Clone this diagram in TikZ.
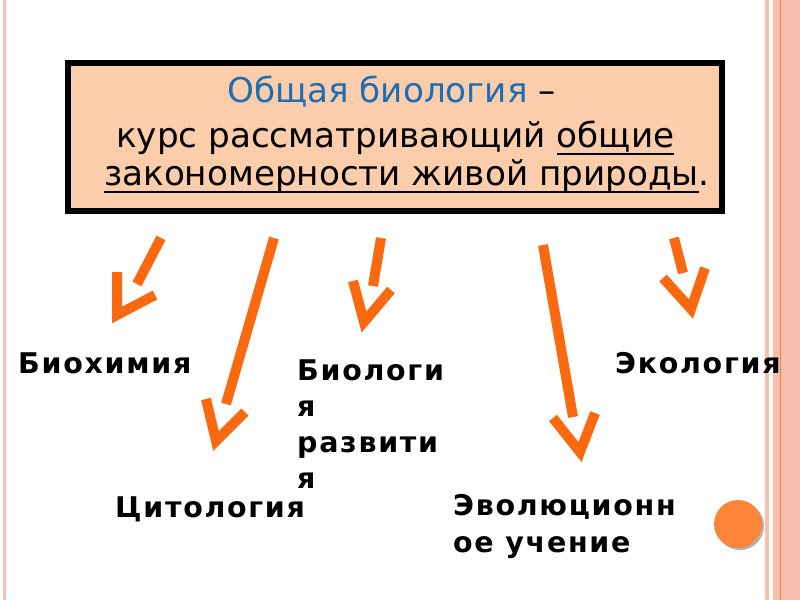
\documentclass[tikz,border=0pt]{standalone}
\usepackage{fontspec}
\setmainfont{DejaVu Sans}
\newfontfamily\lblfont[LetterSpace=6]{DejaVu Sans Bold}
\newcommand\myul[1]{\setbox0\hbox{#1}\rlap{\rule[-7.5pt]{\wd0}{1.6pt}}\box0}
\definecolor{stripe}{RGB}{246,192,172}
\definecolor{stripeline}{RGB}{240,125,75}
\definecolor{peach}{RGB}{252,205,170}
\definecolor{titleblue}{RGB}{30,110,180}
\definecolor{arrorange}{RGB}{250,105,15}
\definecolor{dotorange}{RGB}{253,133,55}
\tikzset{
  maintext/.style={font=\fontsize{34.2}{38}\selectfont, inner sep=0pt, anchor=base west},
  lbl/.style={font=\lblfont\fontsize{28.5}{36}\selectfont, inner sep=0pt, anchor=base west},
  arr/.style={draw=arrorange, line width=10pt, line cap=butt, line join=miter},
}
\begin{document}
\begin{tikzpicture}[x=1pt,y=-1pt]
\useasboundingbox (0,0) rectangle (800,600);
\fill[white] (0,0) rectangle (800,600);
% side stripes
\fill[stripe] (3,0) rectangle (6,600);
\fill[stripe] (765,0) rectangle (769,600);
\fill[stripe] (773,0) rectangle (800,600);
\draw[stripeline, line width=1pt] (780,0) -- (780,600);
% main box
\draw[line width=5.5pt, fill=peach] (68,63) rectangle (722,211);
\node[maintext, text=titleblue] (title) at (227,102) {Общая биология \textcolor{black}{–}};
\node[maintext] (l2) at (116,147) {курс рассматривающий \myul{общие}};
\node[maintext] (l3) at (104,185) {\myul{закономерности живой природы}.};
% labels
\node[lbl] (biochem) at (18,373) {Биохимия};
\node[lbl] (biodev1) at (297,380) {Биологи};
\node[lbl] (biodev2) at (297,416) {я};
\node[lbl] (biodev3) at (297,452) {развити};
\node[lbl] (biodev4) at (297,488) {я};
\node[lbl] (eco) at (615,373) {Экология};
\node[lbl] (cyto) at (115,517) {Цитология};
\node[lbl] (evol1) at (453,515) {Эволюционн};
\node[lbl] (evol2) at (453,552) {ое учение};
% arrows
\coordinate (a1s) at (161,238); \coordinate (a1e) at (137,284);
\coordinate (a1l) at (117,272); \coordinate (a1t) at (117,315); \coordinate (a1r) at (155,295);
\draw[arr] (a1s) -- (a1e);
\draw[arr] (a1l) -- (a1t) -- (a1r);
\coordinate (a2s) at (274,238); \coordinate (a2e) at (226,404);
\coordinate (a2l) at (206,399); \coordinate (a2t) at (216,441); \coordinate (a2r) at (245,412);
\draw[arr] (a2s) -- (a2e);
\draw[arr] (a2l) -- (a2t) -- (a2r);
\coordinate (a3s) at (381,238); \coordinate (a3e) at (373,286);
\coordinate (a3l) at (353,281); \coordinate (a3t) at (364,322); \coordinate (a3r) at (391,290);
\draw[arr] (a3s) -- (a3e);
\draw[arr] (a3l) -- (a3t) -- (a3r);
\coordinate (a4s) at (543,245); \coordinate (a4e) at (573,417);
\coordinate (a4l) at (553,418); \coordinate (a4t) at (580,452); \coordinate (a4r) at (595,413);
\draw[arr] (a4s) -- (a4e);
\draw[arr] (a4l) -- (a4t) -- (a4r);
\coordinate (a5s) at (674,238); \coordinate (a5e) at (683,273);
\coordinate (a5l) at (663,278); \coordinate (a5t) at (691,309); \coordinate (a5r) at (705,268);
\draw[arr] (a5s) -- (a5e);
\draw[arr] (a5l) -- (a5t) -- (a5r);
% dot
\fill[gray!60] (740,526) circle (24);
\fill[dotorange] (738,524) circle (24);
\end{tikzpicture}
\end{document}
